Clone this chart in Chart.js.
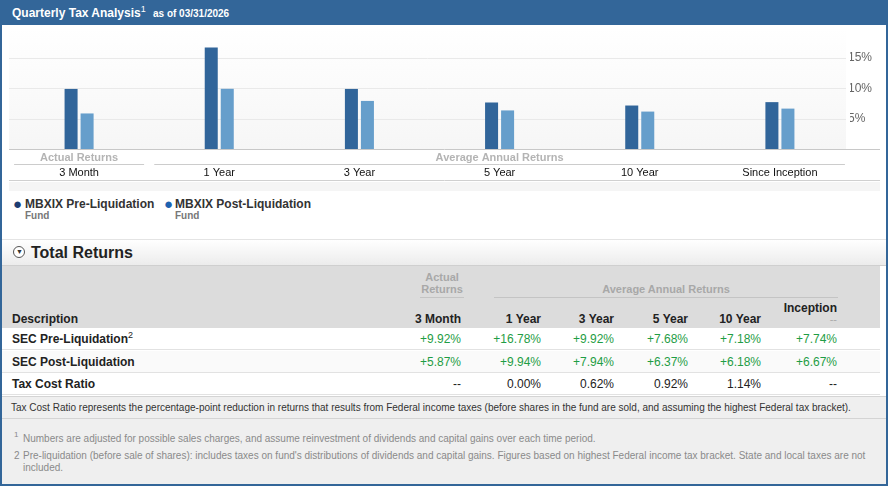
<!DOCTYPE html>
<html>
<head>
<meta charset="utf-8">
<script src="https://cdn.jsdelivr.net/npm/chart.js@4.4.1/dist/chart.umd.min.js"></script>
<style>
  body { margin: 0; background: #fff; font-family: Arial, "Liberation Sans", sans-serif; }
  #wrap { position: relative; width: 888px; height: 487px; overflow: hidden; }
  .abs { position: absolute; white-space: nowrap; }
  #frame { left: 0; top: 0; width: 884px; height: 484px; border: 2px solid #336699; border-top: 0; box-sizing: content-box; }
  #head { left: 0; top: 0; width: 888px; height: 25px; background: #336699; color: #fff; font-weight: bold; }
  #chartBox { left: 9px; top: 27px; width: 871px; height: 155px; }
  #strip { left: 9px; top: 182px; width: 871px; height: 9px; background: #f5f5f5; }
  .leg { font-size: 12px; font-weight: bold; color: #333; }
  .fund { font-size: 10px; font-weight: bold; color: #777; }
  .dot { font-size: 15px; line-height: 15px; }
  #trBar { left: 2px; top: 239px; width: 884px; height: 27px; background: linear-gradient(#ffffff, #ececec); border-top: 1px solid #e4e4e4; border-bottom: 1px solid #cfcfcf; box-sizing: border-box; }
  #thead { left: 2px; top: 266px; width: 878px; height: 62px; background: #dcdcdc; }
  .hg { font-size: 11px; font-weight: bold; color: #a8a8a8; }
  .hc { font-size: 12px; font-weight: bold; color: #222; }
  .row { left: 2px; width: 878px; height: 22px; border-bottom: 1px solid #e2e2e2; box-sizing: border-box; }
  .rl { font-size: 12px; font-weight: bold; color: #222; line-height: 14px; }
  .v { font-size: 12px; text-align: right; width: 70px; line-height: 14px; }
  .g { color: #1f9d45; }
  .k { color: #222; }
  #note { left: 2px; top: 396px; width: 884px; height: 89px; background: #efefef; border-top: 1px solid #d4d4d4; }
  .nt { font-size: 10px; color: #333; }
  .fn { font-size: 10px; color: #8a8a8a; }
  sup.s { font-size: 9px; font-weight: normal; vertical-align: baseline; position: relative; top: -5px; line-height: 0; }
</style>
</head>
<body>
<div id="wrap">
  <div id="note" class="abs"></div>
  <div class="abs" style="left:2px;top:418px;width:884px;height:1px;background:#d4d4d4;"></div>
  <div id="frame" class="abs"></div>
  <div id="head" class="abs">
    <span class="abs" style="left:12px;top:6px;font-size:12px;">Quarterly Tax Analysis<sup class="s">1</sup></span>
    <span class="abs" style="left:153px;top:8px;font-size:10px;">as of 03/31/2026</span>
  </div>

  <div id="chartBox" class="abs"><canvas id="tax-chart"></canvas></div>
  <div id="strip" class="abs"></div>

  <span class="abs dot" style="left:13px;top:196px;color:#1d3d72;">&#9679;</span>
  <span class="abs leg" style="left:25px;top:197px;">MBXIX Pre-Liquidation</span>
  <span class="abs fund" style="left:25px;top:210px;">Fund</span>
  <span class="abs dot" style="left:164px;top:196px;color:#1e62b0;">&#9679;</span>
  <span class="abs leg" style="left:175px;top:197px;">MBXIX Post-Liquidation</span>
  <span class="abs fund" style="left:175px;top:210px;">Fund</span>

  <div id="trBar" class="abs">
    <span class="abs" style="left:11px;top:6px;width:12px;height:12px;border:1px solid #555;border-radius:50%;background:#fff;box-sizing:border-box;"></span>
    <span class="abs" style="left:14px;top:8px;font-size:7px;color:#333;">&#9660;</span>
    <span class="abs" style="left:29px;top:4px;font-size:16px;font-weight:bold;color:#222;">Total Returns</span>
  </div>

  <div id="thead" class="abs">
    <span class="abs hg" style="left:418px;top:5px;text-align:center;width:44px;line-height:12px;">Actual<br>Returns</span>
    <span class="abs" style="left:418px;top:31px;width:44px;height:1px;background:#c4c4c4;"></span>
    <span class="abs hg" style="left:492px;top:17px;width:344px;text-align:center;">Average Annual Returns</span>
    <span class="abs" style="left:492px;top:31px;width:344px;height:1px;background:#c4c4c4;"></span>
    <span class="abs hc" style="left:10px;top:46px;">Description</span>
    <span class="abs hc" style="left:389px;top:46px;width:70px;text-align:right;">3 Month</span>
    <span class="abs hc" style="left:469px;top:46px;width:70px;text-align:right;">1 Year</span>
    <span class="abs hc" style="left:542px;top:46px;width:70px;text-align:right;">3 Year</span>
    <span class="abs hc" style="left:616px;top:46px;width:70px;text-align:right;">5 Year</span>
    <span class="abs hc" style="left:689px;top:46px;width:70px;text-align:right;">10 Year</span>
    <span class="abs hc" style="left:765px;top:35px;width:70px;text-align:right;">Inception</span>
    <span class="abs hc" style="left:765px;top:47px;width:70px;text-align:right;color:#aaa;font-weight:normal;font-size:11px;">--</span>
  </div>
  <div id="rows"></div>

  <span class="abs nt" style="left:11px;top:402px;">Tax Cost Ratio represents the percentage-point reduction in returns that results from Federal income taxes (before shares in the fund are sold, and assuming the highest Federal tax bracket).</span>
  <span class="abs fn" style="left:14px;top:430px;font-size:8px;">1</span>
  <span class="abs fn" style="left:23px;top:433px;">Numbers are adjusted for possible sales charges, and assume reinvestment of dividends and capital gains over each time period.</span>
  <span class="abs fn" style="left:14px;top:450px;">2</span>
  <span class="abs fn" style="left:23px;top:450px;">Pre-liquidation (before sale of shares): includes taxes on fund's distributions of dividends and capital gains. Figures based on highest Federal income tax bracket. State and local taxes are not</span>
  <span class="abs fn" style="left:23px;top:462px;">included.</span>
</div>

<script>
// periods shown on the chart and in the table
const periods = ['3 Month', '1 Year', '3 Year', '5 Year', '10 Year', 'Since Inception'];
const preLiquidation = [9.92, 16.78, 9.92, 7.68, 7.18, 7.74];
const postLiquidation = [5.87, 9.94, 7.94, 6.37, 6.18, 6.67];
const taxCostRatio = [null, 0.00, 0.62, 0.92, 1.14, null];
const yTicks = [5, 10, 15];

// table rows
const fmtPlus = (v) => '+' + v.toFixed(2) + '%';
const fmtPlain = (v) => (v === null ? '--' : v.toFixed(2) + '%');
const tableRows = [
  { label: 'SEC Pre-Liquidation<sup class="s">2</sup>', values: preLiquidation.map(fmtPlus), cls: 'g', bg: '#fff' },
  { label: 'SEC Post-Liquidation', values: postLiquidation.map(fmtPlus), cls: 'g', bg: '#fafafa' },
  { label: 'Tax Cost Ratio', values: taxCostRatio.map(fmtPlain), cls: 'k', bg: '#fff' },
];
const valueRight = [461, 541, 614, 688, 761, 837];
const rowsEl = document.getElementById('rows');
tableRows.forEach((r, i) => {
  const top = 328 + i * 22.5;
  let html = `<div class="abs row" style="top:${top}px;background:${r.bg};"></div>`;
  html += `<span class="abs rl" style="left:12px;top:${top + 4}px;">${r.label}</span>`;
  r.values.forEach((v, j) => {
    html += `<span class="abs v ${r.cls}" style="left:${valueRight[j] - 70}px;top:${top + 4}px;">${v}</span>`;
  });
  rowsEl.insertAdjacentHTML('beforeend', html);
});

// background, gridlines, baseline and group headings under the axis
const decor = {
  id: 'decor',
  beforeDatasetsDraw(chart) {
    const { ctx, chartArea } = chart;
    const y = chart.scales.y;
    const g = ctx.createLinearGradient(0, 0, 0, chartArea.bottom);
    g.addColorStop(0, '#ffffff');
    g.addColorStop(1, '#f6f6f6');
    ctx.save();
    ctx.fillStyle = g;
    ctx.fillRect(0, 0, chartArea.right - 4, chartArea.bottom);
    ctx.strokeStyle = '#e9e9e9';
    ctx.lineWidth = 1;
    ctx.beginPath();
    yTicks.forEach((t) => {
      const py = Math.round(y.getPixelForValue(t)) + 0.5;
      ctx.moveTo(chartArea.left, py);
      ctx.lineTo(chartArea.right - 4, py);
    });
    ctx.stroke();
    ctx.restore();
  },
  afterDraw(chart) {
    const { ctx, chartArea, width, height } = chart;
    const x = chart.scales.x;
    ctx.save();
    ctx.strokeStyle = '#c8c8c8';
    ctx.lineWidth = 1;
    ctx.beginPath();
    ctx.moveTo(0, chartArea.bottom + 0.5);
    ctx.lineTo(width, chartArea.bottom + 0.5);
    ctx.stroke();
    ctx.strokeStyle = '#d0d0d0';
    ctx.beginPath();
    ctx.moveTo(0, height - 1.5);
    ctx.lineTo(width, height - 1.5);
    ctx.stroke();

    const c0 = x.getPixelForValue(0);
    const c1 = x.getPixelForValue(1);
    const c5 = x.getPixelForValue(5);
    const ly = chartArea.bottom + 15.5;
    ctx.strokeStyle = '#cccccc';
    ctx.beginPath();
    ctx.moveTo(c0 - 65, ly); ctx.lineTo(c0 + 65, ly);
    ctx.moveTo(c1 - 65, ly); ctx.lineTo(c5 + 65, ly);
    ctx.stroke();

    ctx.fillStyle = '#b4b4b4';
    ctx.font = 'bold 11px Arial, "Liberation Sans"';
    ctx.textAlign = 'center';
    ctx.textBaseline = 'middle';
    ctx.fillText('Actual Returns', c0, chartArea.bottom + 9);
    ctx.fillText('Average Annual Returns', (c1 + c5) / 2, chartArea.bottom + 9);
    ctx.restore();
  },
};

new Chart(document.getElementById('tax-chart'), {
  type: 'bar',
  data: {
    labels: periods,
    datasets: [
      { label: 'MBXIX Pre-Liquidation', data: preLiquidation, backgroundColor: '#31659a' },
      { label: 'MBXIX Post-Liquidation', data: postLiquidation, backgroundColor: '#669ecb' },
    ],
  },
  options: {
    responsive: true,
    maintainAspectRatio: false,
    animation: false,
    layout: { padding: { top: 13, left: 0, right: 0, bottom: 0 } },
    categoryPercentage: 32 / 140,
    barPercentage: 13 / 16,
    plugins: { legend: { display: false }, tooltip: { enabled: false } },
    scales: {
      x: {
        grid: { display: false, drawTicks: false },
        border: { display: false },
        ticks: { color: '#111', font: { size: 11, family: 'Arial, "Liberation Sans"' }, padding: 17, maxRotation: 0 },
        afterFit: (s) => { s.height = 33; },
      },
      y: {
        position: 'right',
        min: 0,
        max: 18,
        afterBuildTicks: (s) => { s.ticks = [0].concat(yTicks).map((v) => ({ value: v })); },
        grid: { display: false, drawTicks: false },
        border: { display: false },
        ticks: {
          color: '#666',
          padding: -2,
          font: { size: 12, family: 'Arial, "Liberation Sans"' },
          callback: (v) => (v === 0 ? '' : v + '%'),
        },
        afterFit: (s) => { s.width = 30; },
      },
    },
  },
  plugins: [decor],
});
</script>
</body>
</html>
